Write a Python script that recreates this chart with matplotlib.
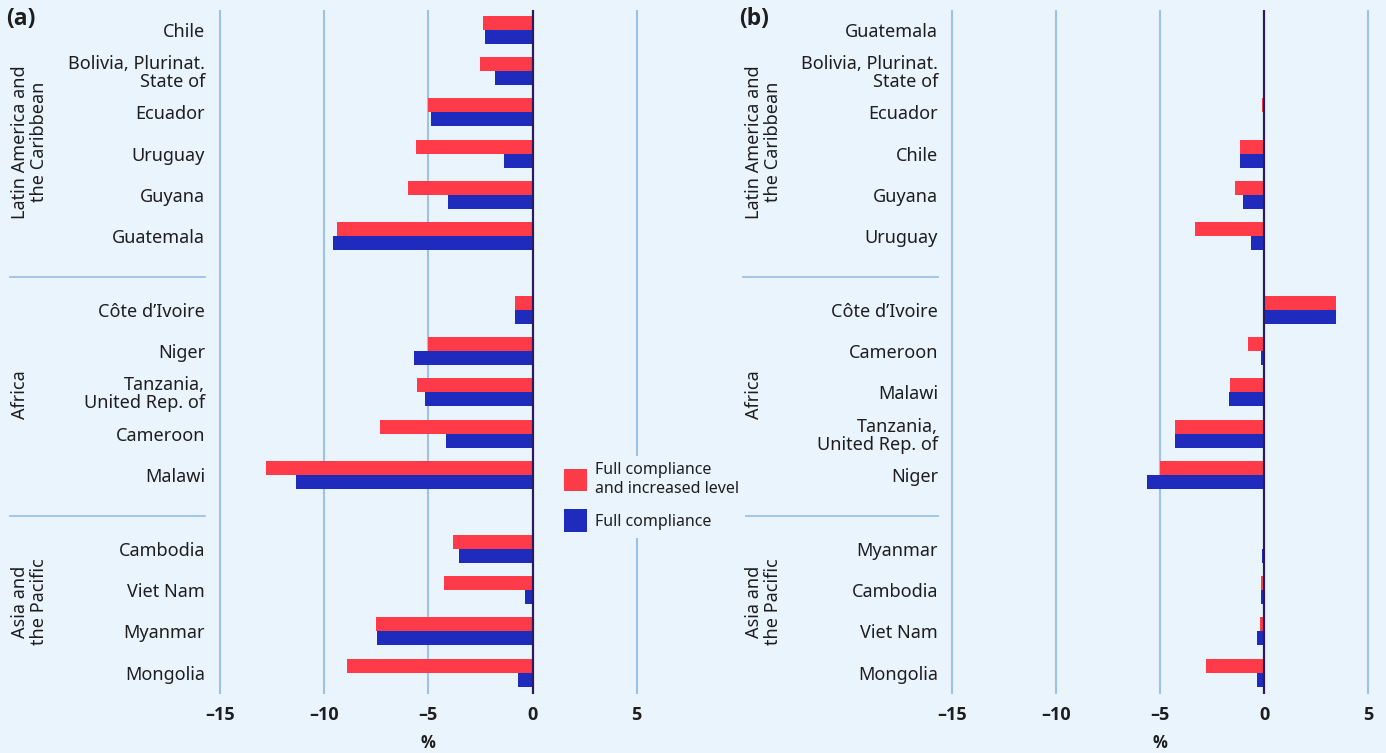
import matplotlib.pyplot as plt
import matplotlib.transforms as mtransforms
from matplotlib.patches import Patch
from matplotlib.lines import Line2D

plt.rcParams['font.family'] = ['Noto Sans', 'DejaVu Sans']
BOLD = ['Open Sans', 'DejaVu Sans']

BG = "#eaf4fc"
RED = "#ff3b4a"
BLUE = "#1f2bbd"
GRID = "#9cc2e6"
ZERO = "#2b1b5a"
TXT = "#1e1e1e"

groups = ["Latin America and\nthe Caribbean", "Africa", "Asia and\nthe Pacific"]
group_sizes = [6, 5, 4]

# panel (a)
a_countries = ["Chile", "Bolivia, Plurinat.\nState of", "Ecuador", "Uruguay", "Guyana", "Guatemala",
               "Côte d’Ivoire", "Niger", "Tanzania,\nUnited Rep. of", "Cameroon", "Malawi",
               "Cambodia", "Viet Nam", "Myanmar", "Mongolia"]
a_increased = [-2.4, -2.5, -5.0, -5.6, -6.0, -9.4,
               -0.82, -5.0, -5.55, -7.3, -12.8,
               -3.8, -4.25, -7.5, -8.9]
a_full = [-2.3, -1.8, -4.85, -1.35, -4.05, -9.6,
          -0.82, -5.7, -5.15, -4.15, -11.35,
          -3.55, -0.35, -7.45, -0.72]

# panel (b)
b_countries = ["Guatemala", "Bolivia, Plurinat.\nState of", "Ecuador", "Chile", "Guyana", "Uruguay",
               "Côte d’Ivoire", "Cameroon", "Malawi", "Tanzania,\nUnited Rep. of", "Niger",
               "Myanmar", "Cambodia", "Viet Nam", "Mongolia"]
b_increased = [-0.02, -0.03, -0.12, -1.15, -1.4, -3.3,
               3.45, -0.75, -1.65, -4.3, -4.98,
               -0.07, -0.13, -0.18, -2.8]
b_full = [-0.01, -0.02, -0.03, -1.15, -1.0, -0.65,
          3.45, -0.17, -1.7, -4.3, -5.65,
          -0.1, -0.13, -0.36, -0.36]

xticks = [-15, -10, -5, 0, 5]
xtick_labels = ["–15", "–10", "–5", "0", "5"]

# row positions with a gap between regions
pos = []
y = 0.0
for size in group_sizes:
    for i in range(size):
        pos.append(y)
        y += 1
    y += 0.8
seps = [(pos[5] + pos[6]) / 2 + 0.1, (pos[10] + pos[11]) / 2 + 0.1]

W, H = 1386, 753
fig = plt.figure(figsize=(W / 100, H / 100), dpi=100, facecolor=BG)

bh = 0.34


def panel(left_px, right_px, xlim, countries, inc, full, label_pad):
    ax = fig.add_axes([left_px / W, 1 - 694 / H, (right_px - left_px) / W, 684 / H])
    ax.set_facecolor(BG)
    for s in ax.spines.values():
        s.set_visible(False)
    for xv in xticks:
        if xv != 0:
            ax.axvline(xv, color=GRID, lw=1.5, zorder=0)
    ax.barh([p - bh / 2 for p in pos], inc, height=bh, color=RED, zorder=2)
    ax.barh([p + bh / 2 for p in pos], full, height=bh, color=BLUE, zorder=2)
    ax.axvline(0, color=ZERO, lw=1.6, zorder=3)
    ax.set_xlim(*xlim)
    ax.set_ylim(16.12, -0.485)
    ax.set_yticks(pos)
    ax.set_yticklabels(countries, fontsize=13, color=TXT, linespacing=1.0)
    ax.set_xticks(xticks)
    ax.set_xticklabels(xtick_labels, fontsize=13, fontweight='bold', family=BOLD, color=TXT)
    ax.tick_params(axis='y', length=0, pad=label_pad)
    ax.tick_params(axis='x', length=0, pad=9)
    return ax


ax_a = panel(215, 660, (-15.24, 6.12), a_countries, a_increased, a_full, 7.2)
ax_b = panel(947, 1386, (-15.24, 5.86), b_countries, b_increased, b_full, 6.5)

# region separators and labels
for ax, x0, x1, tx in [(ax_a, 10, 205, 11), (ax_b, 743, 938, 745)]:
    tr = mtransforms.blended_transform_factory(fig.transFigure, ax.transData)
    for s in seps:
        fig.add_artist(Line2D([x0 / W, x1 / W], [s, s], transform=tr, color=GRID, lw=1.3))
    for g, yc in zip(groups, [142, 395, 602]):
        fig.text(tx / W, 1 - yc / H, g, rotation=90, ha='left', va='center',
                 multialignment='center', fontsize=13, color=TXT, linespacing=1.05)

fig.text(6 / W, 1 - 19 / H, "(a)", fontsize=16.5, fontweight='bold', family=BOLD, color=TXT, va='center')
fig.text(739 / W, 1 - 19 / H, "(b)", fontsize=16.5, fontweight='bold', family=BOLD, color=TXT, va='center')
fig.text(428 / W, 1 - 743 / H, "%", fontsize=12, fontweight='bold', family=BOLD, color=TXT,
         ha='center', va='center')
fig.text(1160 / W, 1 - 743 / H, "%", fontsize=12, fontweight='bold', family=BOLD, color=TXT,
         ha='center', va='center')

handles = [Patch(facecolor=RED), Patch(facecolor=BLUE)]
fig.legend(handles, ["Full compliance\nand increased level", "Full compliance"],
           loc='center left', bbox_to_anchor=(550 / W, 1 - 497 / H), fontsize=11.5,
           frameon=True, facecolor=BG, edgecolor='none', framealpha=1, fancybox=False,
           handlelength=1.4, handleheight=1.8, handletextpad=0.5, labelspacing=0.8,
           labelcolor=TXT)

fig.savefig("out.png", dpi=100, facecolor=BG)
